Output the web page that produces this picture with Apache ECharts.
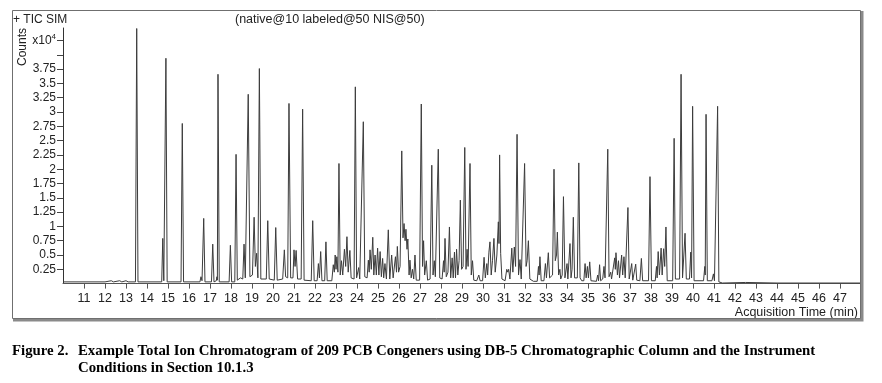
<!DOCTYPE html>
<html>
<head>
<meta charset="utf-8">
<script src="https://cdn.jsdelivr.net/npm/echarts@6/dist/echarts.min.js"></script>
<style>
html,body{margin:0;padding:0;background:#fff;}
#chart{width:882px;height:383px;}
</style>
</head>
<body>
<div id="chart"></div>
<script>
// Acquisition time (min) ticks
const xTickValues = [11,12,13,14,15,16,17,18,19,20,21,22,23,24,25,26,27,28,29,30,31,32,33,34,35,36,37,38,39,40,41,42,43,44,45,46,47];
// Counts (x10^4) ticks and their labels
const yTickValues = [0.25,0.5,0.75,1,1.25,1.5,1.75,2,2.25,2.5,2.75,3,3.25,3.5,3.75,4,4.25];
const yTickLabels = ['0.25','0.5','0.75','1','1.25','1.5','1.75','2','2.25','2.5','2.75','3','3.25','3.5','3.75','','x10^4'];

// TIC trace: [time (min), counts (x10^4)] at peak apexes and valleys
const traceEarly = [
  [10.00,0.03],[12.00,0.03],[12.30,0.05],[12.40,0.03],[12.70,0.05],[12.80,0.03],[13.00,0.05],[13.10,0.03],[13.45,0.03],[13.51,4.46],[13.57,0.03],
  [14.70,0.03],[14.75,0.79],[14.80,0.05],[14.90,3.94],[14.96,0.03],
  [15.62,0.03],[15.68,2.80],[15.74,0.03],
  [16.52,0.03],[16.57,0.12],[16.62,0.05],[16.70,1.14],[16.76,0.03],
  [17.07,0.03],[17.13,0.69],[17.19,0.03],[17.30,0.05],[17.33,0.12],[17.35,0.06],[17.38,3.66],[17.44,0.03],
  [17.91,0.03],[17.97,0.67],[18.03,0.03],[18.18,0.03],[18.24,2.26],[18.30,0.06],[18.45,0.10],[18.56,0.08],[18.62,0.69],[18.68,0.10],
  [18.76,0.10],[18.82,3.31],[18.90,0.12],[19.02,0.15],[19.10,1.16],[19.16,0.30],[19.22,0.53],[19.28,0.10],[19.35,3.76],[19.42,0.08],
  [19.68,0.08],[19.75,1.10],[19.82,0.08],[20.06,0.06],[20.13,0.98],[20.20,0.06],[20.46,0.08],[20.54,0.59],[20.60,0.12],[20.70,0.10],
  [20.76,3.15],[20.84,0.10],[20.95,0.10],[21.00,0.59],[21.05,0.30],[21.10,0.58],[21.17,0.08],[21.34,0.08],[21.41,3.05],[21.48,0.06],
  [21.82,0.05],[21.89,1.10],[21.96,0.05]
];
const traceMiddle = [
  [22.10,0.05],[22.16,0.35],[22.21,0.10],[22.27,0.56],[22.33,0.05],[22.46,0.05],[22.52,0.73],[22.58,0.05],
  [22.80,0.05],[22.87,0.33],[22.92,0.20],[22.96,0.50],[23.00,0.25],[23.04,0.47],[23.09,0.20],[23.14,2.10],[23.20,0.15],
  [23.26,0.40],[23.32,0.15],[23.40,0.60],[23.46,0.30],[23.52,0.82],[23.58,0.20],[23.66,0.58],[23.72,0.10],[23.86,0.08],
  [23.92,3.44],[23.98,0.10],[24.08,0.28],[24.13,0.08],[24.22,0.10],[24.30,2.83],[24.37,0.12],
  [24.48,0.10],[24.54,0.41],[24.58,0.20],[24.62,0.59],[24.68,0.25],[24.75,0.81],[24.80,0.15],[24.86,0.50],[24.92,0.15],
  [24.98,0.62],[25.04,0.15],[25.10,0.56],[25.16,0.12],[25.22,0.44],[25.27,0.10],[25.33,0.35],[25.40,0.08],[25.49,0.94],
  [25.56,0.08],[25.65,0.50],[25.72,0.10],[25.83,0.47],[25.88,0.20],[25.92,0.65],[25.98,0.20],[26.05,0.30],[26.13,2.32],
  [26.19,0.80],[26.24,1.05],[26.29,0.75],[26.33,0.95],[26.38,0.60],[26.42,0.78],[26.48,0.15],[26.52,0.41],[26.58,0.10],
  [26.64,0.25],[26.70,0.08],[26.76,0.50],[26.82,0.06],[26.98,0.06],[27.06,3.14],[27.12,0.30],[27.17,0.75],[27.22,0.15],
  [27.30,0.40],[27.36,0.06],[27.48,0.08],[27.56,2.07],[27.62,0.15],[27.68,0.40],[27.73,0.12],[27.80,0.10],[27.87,2.35],
  [27.94,0.10],[28.05,0.08],[28.12,0.40],[28.15,0.20],[28.19,0.79],[28.25,0.12],[28.33,0.20],[28.40,0.99],[28.46,0.10],
  [28.53,0.45],[28.58,0.10],[28.64,0.55],[28.69,0.10],[28.74,0.60],[28.80,0.15],[28.86,0.40],[28.92,1.46],[28.98,0.25],
  [29.05,0.30],[29.13,2.38],[29.19,0.25],[29.24,0.60],[29.29,0.30],[29.38,2.10],[29.44,0.15],[29.50,0.40],[29.56,0.06],
  [29.70,0.05],[29.80,0.15],[29.86,0.05],[29.98,0.05],[30.05,0.46],[30.11,0.10],[30.18,0.35],[30.22,0.15],[30.28,0.55],
  [30.33,0.73],[30.39,0.15],[30.45,0.40],[30.52,0.79],[30.58,0.20],[30.66,0.50],[30.73,1.08],[30.76,0.70],[30.79,2.25],
  [30.84,0.53],[30.90,0.08]
];
const traceLate = [
  [31.05,0.05],[31.13,0.25],[31.18,0.20],[31.22,0.25],[31.28,0.08],[31.37,0.62],[31.42,0.20],[31.49,0.64],[31.55,0.30],
  [31.62,2.61],[31.69,0.15],[31.76,0.42],[31.82,0.08],[31.90,0.10],[31.98,2.10],[32.05,0.30],[32.10,0.40],[32.16,0.75],
  [32.23,0.08],[32.40,0.04],[32.58,0.04],[32.64,0.30],[32.67,0.15],[32.71,0.47],[32.77,0.05],[32.90,0.05],[32.97,0.35],
  [33.02,0.10],[33.11,0.54],[33.17,0.10],[33.31,0.15],[33.38,2.00],[33.44,0.40],[33.50,0.50],[33.54,0.90],[33.60,0.15],
  [33.66,0.25],[33.70,0.08],[33.77,0.15],[33.83,1.52],[33.90,0.10],[34.00,0.35],[34.04,0.08],[34.14,0.70],[34.19,0.10],
  [34.24,0.25],[34.30,1.16],[34.36,0.10],[34.49,0.10],[34.56,2.11],[34.62,0.10],[34.70,0.05],[34.80,0.05],[34.86,0.35],
  [34.91,0.10],[34.97,0.30],[35.02,0.10],[35.08,0.38],[35.14,0.05],[35.40,0.04],[35.46,0.15],[35.50,0.05],[35.55,0.33],
  [35.60,0.05],[35.70,0.08],[35.76,0.30],[35.81,0.10],[35.88,0.10],[35.94,2.35],[36.00,0.12],[36.08,0.20],[36.12,0.08],
  [36.20,0.10],[36.27,0.45],[36.30,0.25],[36.33,0.54],[36.40,0.15],[36.45,0.40],[36.50,0.10],[36.60,0.50],[36.65,0.15],
  [36.71,0.47],[36.77,0.10],[36.84,0.10],[36.90,1.33],[36.96,0.08],[37.02,0.06],[37.08,0.35],[37.13,0.06],[37.21,0.06],
  [37.27,0.34],[37.32,0.06],[37.47,0.05],[37.54,0.44],[37.60,0.05],[37.88,0.05],[37.95,1.87],[38.02,0.05],[38.20,0.05],
  [38.26,0.30],[38.29,0.10],[38.34,0.56],[38.40,0.15],[38.48,0.62],[38.53,0.15],[38.60,0.61],[38.65,0.30],[38.71,0.99],
  [38.77,0.05],[39.03,0.05],[39.10,2.54],[39.16,0.08],[39.36,0.08],[39.43,3.66],[39.50,0.10],[39.56,0.10],[39.62,0.88],
  [39.68,0.08],[39.83,0.08],[39.89,0.55],[39.93,0.10],[39.98,3.10],[40.05,0.05],[40.50,0.05],[40.56,0.30],[40.58,0.15],
  [40.62,2.96],[40.68,0.05],[40.90,0.05],[40.97,0.17],[41.02,0.05],[41.11,0.05],[41.17,3.10],[41.23,0.03],[41.40,0.01],
  [42.50,0.02],[44.00,0.01],[47.95,0.01]
];

const trace = traceEarly.concat(traceMiddle, traceLate);
const FONT = '"Liberation Sans", Arial, sans-serif';
const SERIF = 'bold 14.8px "Liberation Serif", "Times New Roman", serif';

const chart = echarts.init(document.getElementById('chart'), null, {renderer: 'canvas'});
chart.setOption({
  animation: false,
  backgroundColor: '#fff',
  grid: {left: 63, top: 28, right: 22, bottom: 99.4, containLabel: false},
  xAxis: {
    type: 'value', min: 10, max: 47.95,
    axisLine: {show: true, lineStyle: {color: '#555', width: 1}},
    axisTick: {show: true, length: 5, customValues: xTickValues, lineStyle: {color: '#555'}},
    axisLabel: {customValues: xTickValues, margin: 8, fontSize: 12.5, color: '#222', fontFamily: FONT},
    splitLine: {show: false}
  },
  yAxis: {
    type: 'value', min: 0, max: 4.469,
    axisLine: {show: true, lineStyle: {color: '#333', width: 1}},
    axisTick: {show: true, length: 6, customValues: yTickValues, lineStyle: {color: '#444'}},
    axisLabel: {
      customValues: yTickValues, margin: 7, fontSize: 12, color: '#222', fontFamily: FONT,
      formatter: function (v) {
        let i = yTickValues.findIndex(t => Math.abs(t - v) < 1e-6);
        let s = i >= 0 ? yTickLabels[i] : '';
        if (s === 'x10^4') return '{a|x10}{s|4}';
        return s;
      },
      rich: {
        a: {fontSize: 12, fontFamily: FONT, color: '#222'},
        s: {fontSize: 8, fontFamily: FONT, color: '#222', padding: [0, 0, 7, 0]}
      }
    },
    splitLine: {show: false}
  },
  series: [{
    type: 'line',
    data: trace,
    showSymbol: false,
    symbol: 'none',
    sampling: null,
    lineStyle: {color: '#3c3c3c', width: 1},
    z: 3
  }],
  graphic: [
    {type: 'polyline', silent: true, z: 0, shape: {points: [[862, 11], [862, 320], [13, 320]]}, style: {stroke: '#8a8a8a', lineWidth: 3, fill: null}},
    {type: 'rect', silent: true, z: 1, shape: {x: 12.5, y: 10.5, width: 848, height: 308}, style: {stroke: '#6f6f6f', lineWidth: 1, fill: null}},
    {type: 'text', left: 13, top: 14, style: {text: '+ TIC SIM', font: '12px ' + FONT, fill: '#222'}},
    {type: 'text', left: 235, top: 13, style: {text: '(native@10 labeled@50 NIS@50)', font: '12.5px ' + FONT, fill: '#222'}},
    {type: 'text', x: 17, y: 66, rotation: Math.PI / 2, style: {text: 'Counts', font: '12px ' + FONT, fill: '#222', textAlign: 'left', textVerticalAlign: 'top'}},
    {type: 'text', right: 24, top: 306, style: {text: 'Acquisition Time (min)', font: '12.5px ' + FONT, fill: '#222'}},
    {type: 'text', left: 12, top: 344, style: {text: 'Figure 2.', font: SERIF, fill: '#000'}},
    {type: 'text', left: 78, top: 344, style: {text: 'Example Total Ion Chromatogram of 209 PCB Congeners using DB-5 Chromatographic Column and the Instrument', font: SERIF, fill: '#000'}},
    {type: 'text', left: 78, top: 361, style: {text: 'Conditions in Section 10.1.3', font: SERIF, fill: '#000'}}
  ]
});
</script>
</body>
</html>
